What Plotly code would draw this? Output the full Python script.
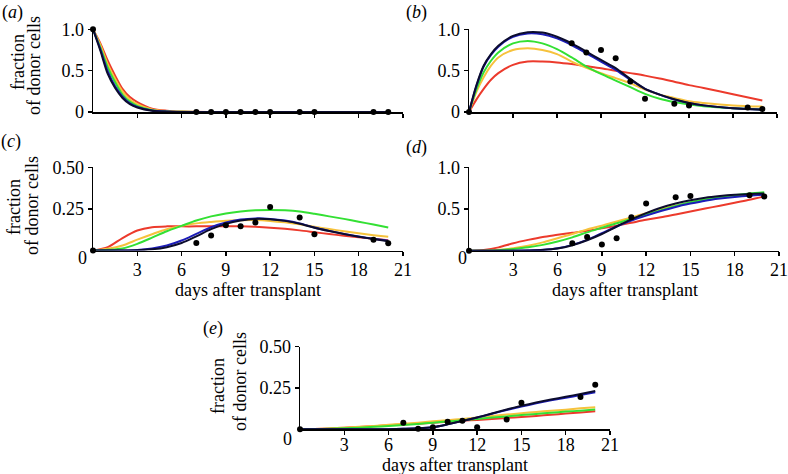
import plotly.graph_objects as go

W, H = 788, 474
FONT = "'Liberation Serif', 'Times New Roman', serif"

# ---------------- data ----------------
DOT_DAYS = [0, 7, 8, 9, 10, 11, 12, 14, 15, 19, 20]

# panel (a)
DAYS_A = [0, 0.5, 1, 1.5, 2, 2.5, 3, 4, 5, 6, 8, 10, 12, 14, 16, 18, 20]
A_RED = [1.0, 0.83, 0.62, 0.44, 0.28, 0.18, 0.12, 0.04, 0.015, 0.005, 0.001, 0, 0, 0, 0, 0, 0]
A_YELLOW = [1.0, 0.81, 0.58, 0.40, 0.25, 0.15, 0.095, 0.03, 0.01, 0.003, 0.001, 0, 0, 0, 0, 0, 0]
A_GREEN = [1.0, 0.78, 0.54, 0.36, 0.21, 0.125, 0.075, 0.022, 0.006, 0.002, 0, 0, 0, 0, 0, 0, 0]
A_BLUE = [1.0, 0.76, 0.49, 0.31, 0.185, 0.105, 0.062, 0.018, 0.005, 0.001, 0, 0, 0, 0, 0, 0, 0]
A_BLACK = [1.0, 0.74, 0.46, 0.29, 0.17, 0.095, 0.055, 0.015, 0.004, 0.001, 0, 0, 0, 0, 0, 0, 0]
A_DOTS = [1.0, 0, 0, 0, 0, 0, 0, 0, 0, 0, 0]

# panel (b)
DAYS_B = [0, 0.5, 1, 1.5, 2, 3, 4, 5, 6, 7, 8, 9, 10, 11, 12, 13, 14, 15, 16, 18, 20]
B_RED = [0, 0.15, 0.28, 0.39, 0.47, 0.57, 0.61, 0.61, 0.60, 0.58, 0.555, 0.53, 0.50, 0.47, 0.44, 0.405, 0.365, 0.325, 0.29, 0.215, 0.14]
B_YELLOW = [0, 0.24, 0.42, 0.56, 0.66, 0.75, 0.77, 0.75, 0.70, 0.61, 0.535, 0.47, 0.41, 0.35, 0.27, 0.21, 0.17, 0.13, 0.11, 0.08, 0.065]
B_GREEN = [0, 0.27, 0.48, 0.62, 0.72, 0.83, 0.86, 0.83, 0.76, 0.66, 0.55, 0.46, 0.38, 0.30, 0.22, 0.16, 0.12, 0.09, 0.07, 0.045, 0.03]
B_BLUE = [0, 0.31, 0.55, 0.69, 0.79, 0.91, 0.95, 0.94, 0.89, 0.81, 0.71, 0.61, 0.51, 0.39, 0.28, 0.21, 0.15, 0.11, 0.08, 0.045, 0.03]
B_BLACK = [0, 0.32, 0.56, 0.70, 0.80, 0.92, 0.965, 0.96, 0.91, 0.83, 0.73, 0.63, 0.53, 0.40, 0.28, 0.21, 0.155, 0.11, 0.08, 0.045, 0.028]
B_DOTS = [0, 0.83, 0.72, 0.75, 0.65, 0.37, 0.16, 0.10, 0.08, 0.055, 0.035]

# panels (c), (d), (e): integer days 0..20
DAYS_CDE = list(range(0, 21))
C_RED = [0, 0.02, 0.075, 0.12, 0.14, 0.145, 0.145, 0.145, 0.146, 0.146, 0.145, 0.142, 0.137, 0.13, 0.121, 0.11, 0.099, 0.089, 0.079, 0.07, 0.062]
C_YELLOW = [0, 0.01, 0.03, 0.065, 0.098, 0.128, 0.148, 0.163, 0.172, 0.179, 0.182, 0.183, 0.178, 0.169, 0.157, 0.143, 0.129, 0.116, 0.103, 0.092, 0.082]
C_GREEN = [0, 0.004, 0.012, 0.04, 0.077, 0.116, 0.148, 0.18, 0.205, 0.223, 0.235, 0.242, 0.244, 0.242, 0.235, 0.221, 0.205, 0.19, 0.173, 0.156, 0.138]
C_BLUE = [0, 0, 0, 0.003, 0.012, 0.03, 0.06, 0.10, 0.14, 0.168, 0.186, 0.193, 0.19, 0.18, 0.163, 0.138, 0.118, 0.1, 0.084, 0.07, 0.058]
C_BLACK = [0, 0, 0, 0.001, 0.007, 0.02, 0.045, 0.085, 0.128, 0.16, 0.18, 0.19, 0.188, 0.178, 0.161, 0.137, 0.117, 0.099, 0.083, 0.069, 0.056]
C_DOTS = [0, 0.045, 0.09, 0.152, 0.145, 0.168, 0.262, 0.198, 0.098, 0.065, 0.043]

D_RED = [0, 0.01, 0.04, 0.09, 0.13, 0.165, 0.19, 0.215, 0.24, 0.27, 0.30, 0.335, 0.37, 0.40, 0.435, 0.47, 0.505, 0.54, 0.576, 0.61, 0.65]
D_YELLOW = [0, 0, 0.01, 0.03, 0.06, 0.10, 0.15, 0.20, 0.256, 0.30, 0.35, 0.40, 0.45, 0.50, 0.54, 0.576, 0.61, 0.635, 0.656, 0.67, 0.68]
D_GREEN = [0, 0, 0.005, 0.02, 0.04, 0.07, 0.11, 0.16, 0.22, 0.275, 0.33, 0.38, 0.435, 0.485, 0.535, 0.58, 0.615, 0.645, 0.665, 0.685, 0.70]
D_BLUE = [0, 0, 0, 0, 0.003, 0.01, 0.03, 0.07, 0.13, 0.21, 0.29, 0.36, 0.42, 0.475, 0.525, 0.565, 0.6, 0.625, 0.645, 0.66, 0.67]
D_BLACK = [0, 0, 0, 0, 0.002, 0.008, 0.025, 0.065, 0.125, 0.2, 0.29, 0.375, 0.45, 0.515, 0.565, 0.605, 0.635, 0.655, 0.67, 0.68, 0.685]
D_DOTS = [0, 0.09, 0.165, 0.075, 0.15, 0.40, 0.565, 0.64, 0.655, 0.665, 0.65]

E_RED = [0, 0.002, 0.005, 0.01, 0.014, 0.019, 0.025, 0.029, 0.034, 0.04, 0.045, 0.051, 0.057, 0.063, 0.069, 0.075, 0.081, 0.088, 0.095, 0.102, 0.11]
E_YELLOW = [0, 0.002, 0.005, 0.01, 0.015, 0.02, 0.027, 0.033, 0.04, 0.048, 0.055, 0.063, 0.072, 0.081, 0.089, 0.097, 0.105, 0.112, 0.119, 0.127, 0.134]
E_GREEN = [0, 0.001, 0.003, 0.006, 0.01, 0.015, 0.02, 0.026, 0.032, 0.04, 0.047, 0.055, 0.063, 0.071, 0.078, 0.086, 0.093, 0.1, 0.107, 0.113, 0.12]
E_BLUE = [0, 0, 0, 0, 0, 0, 0.001, 0.003, 0.006, 0.013, 0.03, 0.05, 0.071, 0.094, 0.117, 0.138, 0.157, 0.175, 0.191, 0.207, 0.224]
E_BLACK = [0, 0, 0, 0, 0, 0, 0.001, 0.003, 0.006, 0.013, 0.03, 0.05, 0.072, 0.096, 0.12, 0.142, 0.162, 0.18, 0.197, 0.214, 0.232]
E_DOTS = [0, 0.04, 0.004, 0.012, 0.046, 0.052, 0.012, 0.06, 0.16, 0.196, 0.27]

X_TICKS = [3, 6, 9, 12, 15, 18, 21]
X_TICK_LABELS = ["3", "6", "9", "12", "15", "18", "21"]

COLORS = {"red": "#ec3a2c", "yellow": "#f6c23c", "green": "#33e033",
          "blue": "#1c1cb8", "black": "#0c0c2e"}

# ---------------- layout geometry (screen pixels) ----------------
PANELS = [
    dict(days=DAYS_A, curves=[A_RED, A_YELLOW, A_GREEN, A_BLUE, A_BLACK], dots=A_DOTS,
         xpx=(93, 403), ypx=(112, 29.3), yr=1.0, yt=[0, 0.5, 1.0], ytl=["0", "0.5", "1.0"],
         xl=False, so=0),
    dict(days=DAYS_B, curves=[B_RED, B_YELLOW, B_GREEN, B_BLUE, B_BLACK], dots=B_DOTS,
         xpx=(469, 777), ypx=(112, 29.3), yr=1.0, yt=[0, 0.5, 1.0], ytl=["0", "0.5", "1.0"],
         xl=False, so=0),
    dict(days=DAYS_CDE, curves=[C_RED, C_YELLOW, C_GREEN, C_BLUE, C_BLACK], dots=C_DOTS,
         xpx=(93, 403), ypx=(250.5, 167.3), yr=0.5, yt=[0.25, 0.5], ytl=["0.25", "0.50"],
         xl=True, so=-2),
    dict(days=DAYS_CDE, curves=[D_RED, D_YELLOW, D_GREEN, D_BLUE, D_BLACK], dots=D_DOTS,
         xpx=(469, 779), ypx=(250.7, 167.3), yr=1.0, yt=[0.5, 1.0], ytl=["0.5", "1.0"],
         xl=True, so=-2),
    dict(days=DAYS_CDE, curves=[E_RED, E_YELLOW, E_GREEN, E_BLUE, E_BLACK], dots=E_DOTS,
         xpx=(300, 610), ypx=(429.3, 346.7), yr=0.5, yt=[0.25, 0.5], ytl=["0.25", "0.50"],
         xl=True, so=-5),
]
ORDER = ["red", "yellow", "green", "blue", "black"]


def fx(px):
    return px / W


def fy(py):
    return 1 - py / H


fig = go.Figure()
layout = {}
tickfont = dict(family=FONT, size=18, color="black")

for i, p in enumerate(PANELS, start=1):
    xa = "x" if i == 1 else f"x{i}"
    ya = "y" if i == 1 else f"y{i}"
    for name, ys in zip(ORDER, p["curves"]):
        fig.add_trace(go.Scatter(x=p["days"], y=ys, mode="lines",
                                 line=dict(color=COLORS[name], width=2, shape="spline", smoothing=0.8),
                                 xaxis=xa, yaxis=ya, showlegend=False, hoverinfo="skip"))
    fig.add_trace(go.Scatter(x=DOT_DAYS, y=p["dots"], mode="markers",
                             marker=dict(color="black", size=6),
                             cliponaxis=False, xaxis=xa, yaxis=ya, showlegend=False))
    axcommon = dict(showline=True, linecolor="black", linewidth=1.5, ticks="outside",
                    ticklen=4, tickwidth=1.5, tickcolor="black", showgrid=False,
                    zeroline=False, tickfont=tickfont, fixedrange=True, automargin=False)
    layout["xaxis" if i == 1 else f"xaxis{i}"] = dict(
        axcommon, domain=[fx(p["xpx"][0]), fx(p["xpx"][1])], range=[0, 21],
        tickvals=X_TICKS, ticktext=X_TICK_LABELS, showticklabels=p["xl"],
        ticklabelstandoff=p["so"], anchor=ya)
    layout["yaxis" if i == 1 else f"yaxis{i}"] = dict(
        axcommon, domain=[fy(p["ypx"][0]), fy(p["ypx"][1])], range=[0, p["yr"]],
        tickvals=p["yt"], ticktext=p["ytl"], anchor=xa)


def ann(text, xpx, ypx, angle=0, size=18):
    return dict(text=text, x=fx(xpx), y=fy(ypx), xref="paper", yref="paper",
                showarrow=False, textangle=angle, xanchor="center", yanchor="middle",
                font=dict(family=FONT, size=size, color="black"))


annotations = [
    ann("(<i>a</i>)", 12, 12), ann("(<i>b</i>)", 416, 12), ann("(<i>c</i>)", 11, 141),
    ann("(<i>d</i>)", 416, 147), ann("(<i>e</i>)", 213, 328),
    ann("fraction", 18, 62, -90), ann("of donor cells", 34, 66, -90),
    ann("fraction", 14, 207, -90), ann("of donor cells", 32, 205, -90),
    ann("fraction", 218, 386, -90), ann("of donor cells", 240, 382, -90),
    ann("0", 82, 258), ann("0", 462, 258), ann("0", 287, 439),
    ann("days after transplant", 248, 290), ann("days after transplant", 625, 290),
    ann("days after transplant", 455, 465),
]

fig.update_layout(width=W, height=H, margin=dict(l=0, r=0, t=0, b=0, pad=0, autoexpand=False),
                  paper_bgcolor="white", plot_bgcolor="white", showlegend=False,
                  hovermode=False, annotations=annotations, **layout)

fig.write_html("out.html",
               config={"displayModeBar": False, "staticPlot": True},
               post_script="document.body.style.margin='0';"
                           "document.documentElement.style.overflow='hidden';"
                           "document.body.style.overflow='hidden';")
